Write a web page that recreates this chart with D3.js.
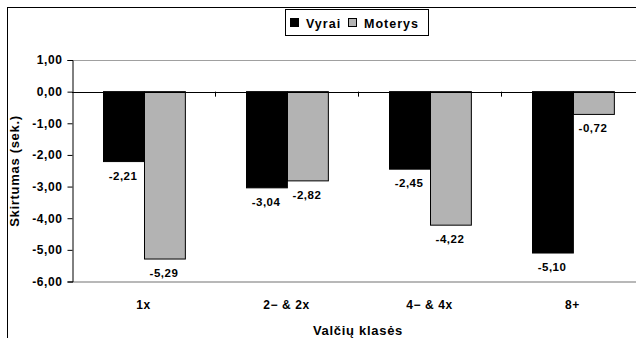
<!DOCTYPE html>
<html>
<head>
<meta charset="utf-8">
<script src="https://cdn.jsdelivr.net/npm/d3@7"></script>
<style>
  body { margin: 0; background: #fff; }
  svg { display: block; font-family: "Liberation Sans", Arial, sans-serif; font-weight: bold; }
</style>
</head>
<body>
<svg width="636" height="338"></svg>
<script>
// chart data
var categories = ["1x", "2\u2212 & 2x", "4\u2212 & 4x", "8+"];
var seriesNames = ["Vyrai", "Moterys"];
var vyrai = [-2.21, -3.04, -2.45, -5.10];
var moterys = [-5.29, -2.82, -4.22, -0.72];
var yTicks = [1, 0, -1, -2, -3, -4, -5, -6];
var colors = ["#000000", "#b3b3b3"];

// comma decimals, plain hyphen minus
var fmt = d => d3.format(".2f")(d).replace(".", ",").replace("\u2212", "-");

var svg = d3.select("svg");

// outer frame, runs off the right and bottom of the picture
svg.append("rect")
    .attr("x", 7.5).attr("y", 7.5)
    .attr("width", 700).attr("height", 400)
    .attr("fill", "none").attr("stroke", "#000").attr("stroke-width", 1);

var plotL = 72, plotR = 644, plotT = 60, plotB = 281.5;

var x = d3.scaleBand().domain(categories).range([plotL, plotR]);
var xs = d3.scaleBand().domain(seriesNames).range([0, x.bandwidth()]).paddingInner(0).paddingOuter(0.75);
var y = d3.scaleLinear().domain([-6, 1]).range([plotB, plotT]);

// plot border top and bottom (gray)
svg.append("line").attr("x1", plotL).attr("x2", 636).attr("y1", y(1) + 0.5).attr("y2", y(1) + 0.5)
    .attr("stroke", "#a0a0a0");
svg.append("line").attr("x1", plotL).attr("x2", 636).attr("y1", y(-6) + 0.5).attr("y2", y(-6) + 0.5)
    .attr("stroke", "#a0a0a0").attr("stroke-width", 1.5);

// y axis
var yAxis = d3.axisLeft(y).tickValues(yTicks).tickSize(5).tickPadding(5).tickFormat(fmt);
var gy = svg.append("g").attr("transform", "translate(" + (plotL + 0.5) + ",0)").call(yAxis);
gy.select(".domain").attr("stroke", "#000");
gy.selectAll("text").attr("font-size", 12).attr("letter-spacing", 0.6)
    .attr("font-family", "Liberation Sans, Arial").attr("font-weight", "bold").attr("fill", "#000");

// bars
var data = [];
categories.forEach(function(c, i) {
  data.push({cat: c, s: seriesNames[0], v: vyrai[i], col: colors[0]});
  data.push({cat: c, s: seriesNames[1], v: moterys[i], col: colors[1]});
});

svg.selectAll(".bar").data(data).enter().append("rect")
    .attr("class", "bar")
    .attr("x", d => Math.round(x(d.cat) + xs(d.s)) + 0.5)
    .attr("width", xs.bandwidth())
    .attr("y", d => y(0))
    .attr("height", d => y(d.v) - y(0))
    .attr("fill", d => d.col)
    .attr("stroke", "#000").attr("stroke-width", 1);

// zero axis line with category ticks
svg.append("line").attr("x1", plotL).attr("x2", 636).attr("y1", Math.round(y(0)) + 0.5).attr("y2", Math.round(y(0)) + 0.5)
    .attr("stroke", "#000");
svg.selectAll(".ctick").data(categories.slice(1)).enter().append("line")
    .attr("x1", d => Math.round(x(d)) + 0.5).attr("x2", d => Math.round(x(d)) + 0.5)
    .attr("y1", y(0)).attr("y2", y(0) + 5)
    .attr("stroke", "#000");

// value labels
svg.selectAll(".vlab").data(data).enter().append("text")
    .attr("x", d => x(d.cat) + xs(d.s) + xs.bandwidth() / 2)
    .attr("y", d => y(d.v) + 18)
    .attr("text-anchor", "middle")
    .attr("font-size", 11.5).attr("letter-spacing", 0.5)
    .text(d => fmt(d.v));

// category labels
svg.selectAll(".clab").data(categories).enter().append("text")
    .attr("x", d => x(d) + x.bandwidth() / 2)
    .attr("y", 309)
    .attr("text-anchor", "middle")
    .attr("font-size", 12).attr("letter-spacing", 0.6)
    .text(d => d);

// axis titles
svg.append("text").attr("x", 358).attr("y", 335).attr("text-anchor", "middle")
    .attr("font-size", 13).attr("letter-spacing", 0.7).text("Valčių klasės");
svg.append("text").attr("transform", "translate(19,171) rotate(-90)").attr("text-anchor", "middle")
    .attr("font-size", 13).attr("letter-spacing", 0.7).text("Skirtumas (sek.)");

// legend
var lg = svg.append("g");
lg.append("rect").attr("x", 285.5).attr("y", 9.5).attr("width", 143).attr("height", 26)
    .attr("fill", "#fff").attr("stroke", "#000");
var legX = [290, 348];
seriesNames.forEach(function(s, i) {
  lg.append("rect").attr("x", legX[i] + 0.5).attr("y", 18.5).attr("width", 8).attr("height", 8)
      .attr("fill", colors[i]).attr("stroke", "#000");
  lg.append("text").attr("x", legX[i] + 16).attr("y", 27.5).attr("font-size", 12.5).attr("letter-spacing", 1).text(s);
});
</script>
</body>
</html>
